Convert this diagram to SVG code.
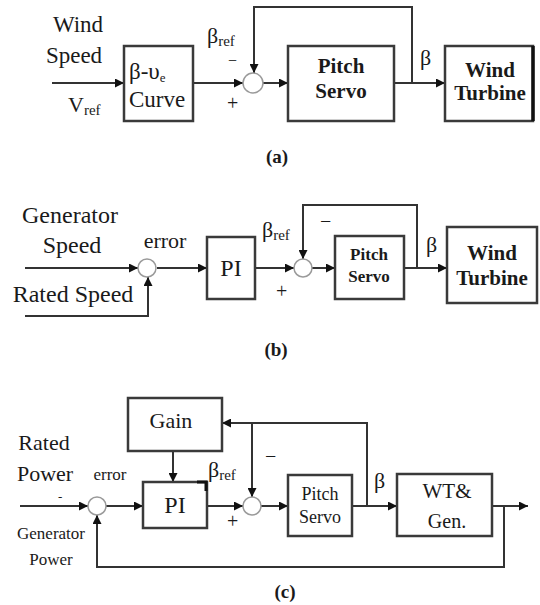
<svg xmlns="http://www.w3.org/2000/svg" width="540" height="605" viewBox="0 0 540 605">
<defs>
<marker id="arr" viewBox="0 0 10 10" refX="10" refY="5" markerWidth="10" markerHeight="9" markerUnits="userSpaceOnUse" orient="auto">
<path d="M0,0 L10,5 L0,10 z" fill="#111"/>
</marker>
<style>
.box{fill:#fff;stroke:#3a3a3a;stroke-width:2.5}
.sum{fill:#fff;stroke:#9a9a9a;stroke-width:1.5}
.ln{fill:none;stroke:#333;stroke-width:2}
.ar{marker-end:url(#arr)}
text{font-family:"Liberation Serif","Times New Roman",serif;fill:#1a1a1a}
.b{font-weight:bold}
.c{text-anchor:middle}
</style>
</defs>
<rect width="540" height="605" fill="#fff"/>

<g id="connectors">
<!-- (a) -->
<path class="ln ar" d="M52,83 H124"/>
<path class="ln ar" d="M193,83 H243"/>
<path class="ln ar" d="M263,83 H288"/>
<path class="ln ar" d="M394,83 H445"/>
<path class="ln ar" d="M412,83 V7 H254 V73"/>
<!-- (b) -->
<path class="ln ar" d="M25,268 H138"/>
<path class="ln ar" d="M25,316 H148 V277"/>
<path class="ln ar" d="M157,268 H207"/>
<path class="ln ar" d="M255,268 H294"/>
<path class="ln ar" d="M312,268 H335"/>
<path class="ln ar" d="M404,268 H447"/>
<path class="ln ar" d="M417,268 V205 H303 V259"/>
<!-- (c) -->
<path class="ln ar" d="M20,506 H88"/>
<path class="ln ar" d="M106,506 H143"/>
<path class="ln ar" d="M207,506 H243"/>
<path class="ln ar" d="M261,506 H288"/>
<path class="ln ar" d="M352,506 H397"/>
<path class="ln ar" d="M492,506 H528"/>
<path class="ln ar" d="M504,506 V567 H97 V515"/>
<path class="ln ar" d="M367,506 V423 H222"/>
<path class="ln ar" d="M252,423 V497"/>
<path class="ln ar" d="M173,451 V482"/>
</g>

<!-- Panel (a) -->
<g id="a-labels">
<text x="78" y="32" font-size="23" class="c">Wind</text>
<text x="74" y="63" font-size="23" class="c">Speed</text>
<text x="68" y="112" font-size="22">V<tspan font-size="15" dy="3">ref</tspan></text>
<text x="207" y="43" font-size="22">β<tspan font-size="15" dy="3">ref</tspan></text>
<text x="228" y="66" font-size="16">−</text>
<text x="227" y="110" font-size="20">+</text>
<text x="420" y="65" font-size="22">β</text>
<text x="277" y="163" font-size="19" class="b c">(a)</text>
</g>
<g id="a-curve">
<rect class="box" x="124" y="46" width="69" height="75"/>
<text x="129" y="79" font-size="23">β-υ<tspan font-size="13" dy="3">e</tspan></text>
<text x="157" y="107" font-size="23" class="c">Curve</text>
</g>
<g id="a-sum"><circle class="sum" cx="253" cy="83" r="10"/></g>
<g id="a-servo">
<rect class="box" x="288" y="46" width="106" height="75"/>
<text x="341" y="73" font-size="21" class="b c">Pitch</text>
<text x="341" y="98" font-size="21" class="b c">Servo</text>
</g>
<g id="a-turbine">
<rect class="box" x="445" y="46" width="88" height="75"/>
<path d="M533,46 V121" stroke="#111" stroke-width="3.5"/>
<text x="490" y="77" font-size="21" class="b c">Wind</text>
<text x="490" y="100" font-size="21" class="b c">Turbine</text>
</g>

<!-- Panel (b) -->
<g id="b-labels">
<text x="70" y="223" font-size="24" class="c">Generator</text>
<text x="72" y="253" font-size="24" class="c">Speed</text>
<text x="73" y="302" font-size="24" class="c">Rated Speed</text>
<text x="165" y="248" font-size="22" class="c">error</text>
<text x="262" y="237" font-size="22">β<tspan font-size="15" dy="3">ref</tspan></text>
<text x="276" y="298" font-size="20">+</text>
<text x="320" y="228" font-size="20">−</text>
<text x="426" y="252" font-size="22">β</text>
<text x="276" y="356" font-size="19" class="b c">(b)</text>
</g>
<g id="b-sum1"><circle class="sum" cx="147" cy="268" r="9"/></g>
<g id="b-pi">
<rect class="box" x="207" y="237" width="48" height="62"/>
<text x="231" y="276" font-size="24" class="c">PI</text>
</g>
<g id="b-sum2"><circle class="sum" cx="303" cy="268" r="9"/></g>
<g id="b-servo">
<rect class="box" x="335" y="236" width="69" height="63"/>
<text x="369" y="260" font-size="17" class="b c">Pitch</text>
<text x="369" y="282" font-size="17" class="b c">Servo</text>
</g>
<g id="b-turbine">
<rect class="box" x="447" y="227" width="90" height="76"/>
<text x="492" y="260" font-size="21" class="b c">Wind</text>
<text x="492" y="285" font-size="21" class="b c">Turbine</text>
</g>

<!-- Panel (c) -->
<g id="c-labels">
<text x="44" y="450" font-size="22" class="c">Rated</text>
<text x="45" y="481" font-size="22" class="c">Power</text>
<text x="58" y="501" font-size="13">-</text>
<text x="110" y="480" font-size="17" class="c">error</text>
<text x="51" y="539" font-size="17" class="c">Generator</text>
<text x="51" y="565" font-size="17" class="c">Power</text>
<text x="208" y="477" font-size="22">β<tspan font-size="15" dy="3">ref</tspan></text>
<text x="227" y="528" font-size="20">+</text>
<text x="265" y="463" font-size="20">−</text>
<text x="374" y="488" font-size="22">β</text>
<text x="285" y="598" font-size="19" class="b c">(c)</text>
</g>
<g id="c-gain">
<rect class="box" x="128" y="398" width="94" height="53"/>
<text x="171" y="428" font-size="22" class="c">Gain</text>
</g>
<g id="c-sum1"><circle class="sum" cx="97" cy="506" r="9"/></g>
<g id="c-pi">
<rect class="box" x="143" y="482" width="64" height="46"/>
<path d="M197,482 H206 V491" fill="none" stroke="#111" stroke-width="3"/>
<text x="175" y="513" font-size="24" class="c">PI</text>
</g>
<g id="c-sum2"><circle class="sum" cx="252" cy="506" r="9"/></g>
<g id="c-servo">
<rect class="box" x="288" y="475" width="64" height="61"/>
<text x="320" y="500" font-size="18" class="c">Pitch</text>
<text x="320" y="523" font-size="18" class="c">Servo</text>
</g>
<g id="c-wt">
<rect class="box" x="397" y="474" width="95" height="62"/>
<text x="447" y="498" font-size="21" class="c">WT&amp;</text>
<text x="447" y="528" font-size="20" class="c">Gen.</text>
</g>
</svg>
